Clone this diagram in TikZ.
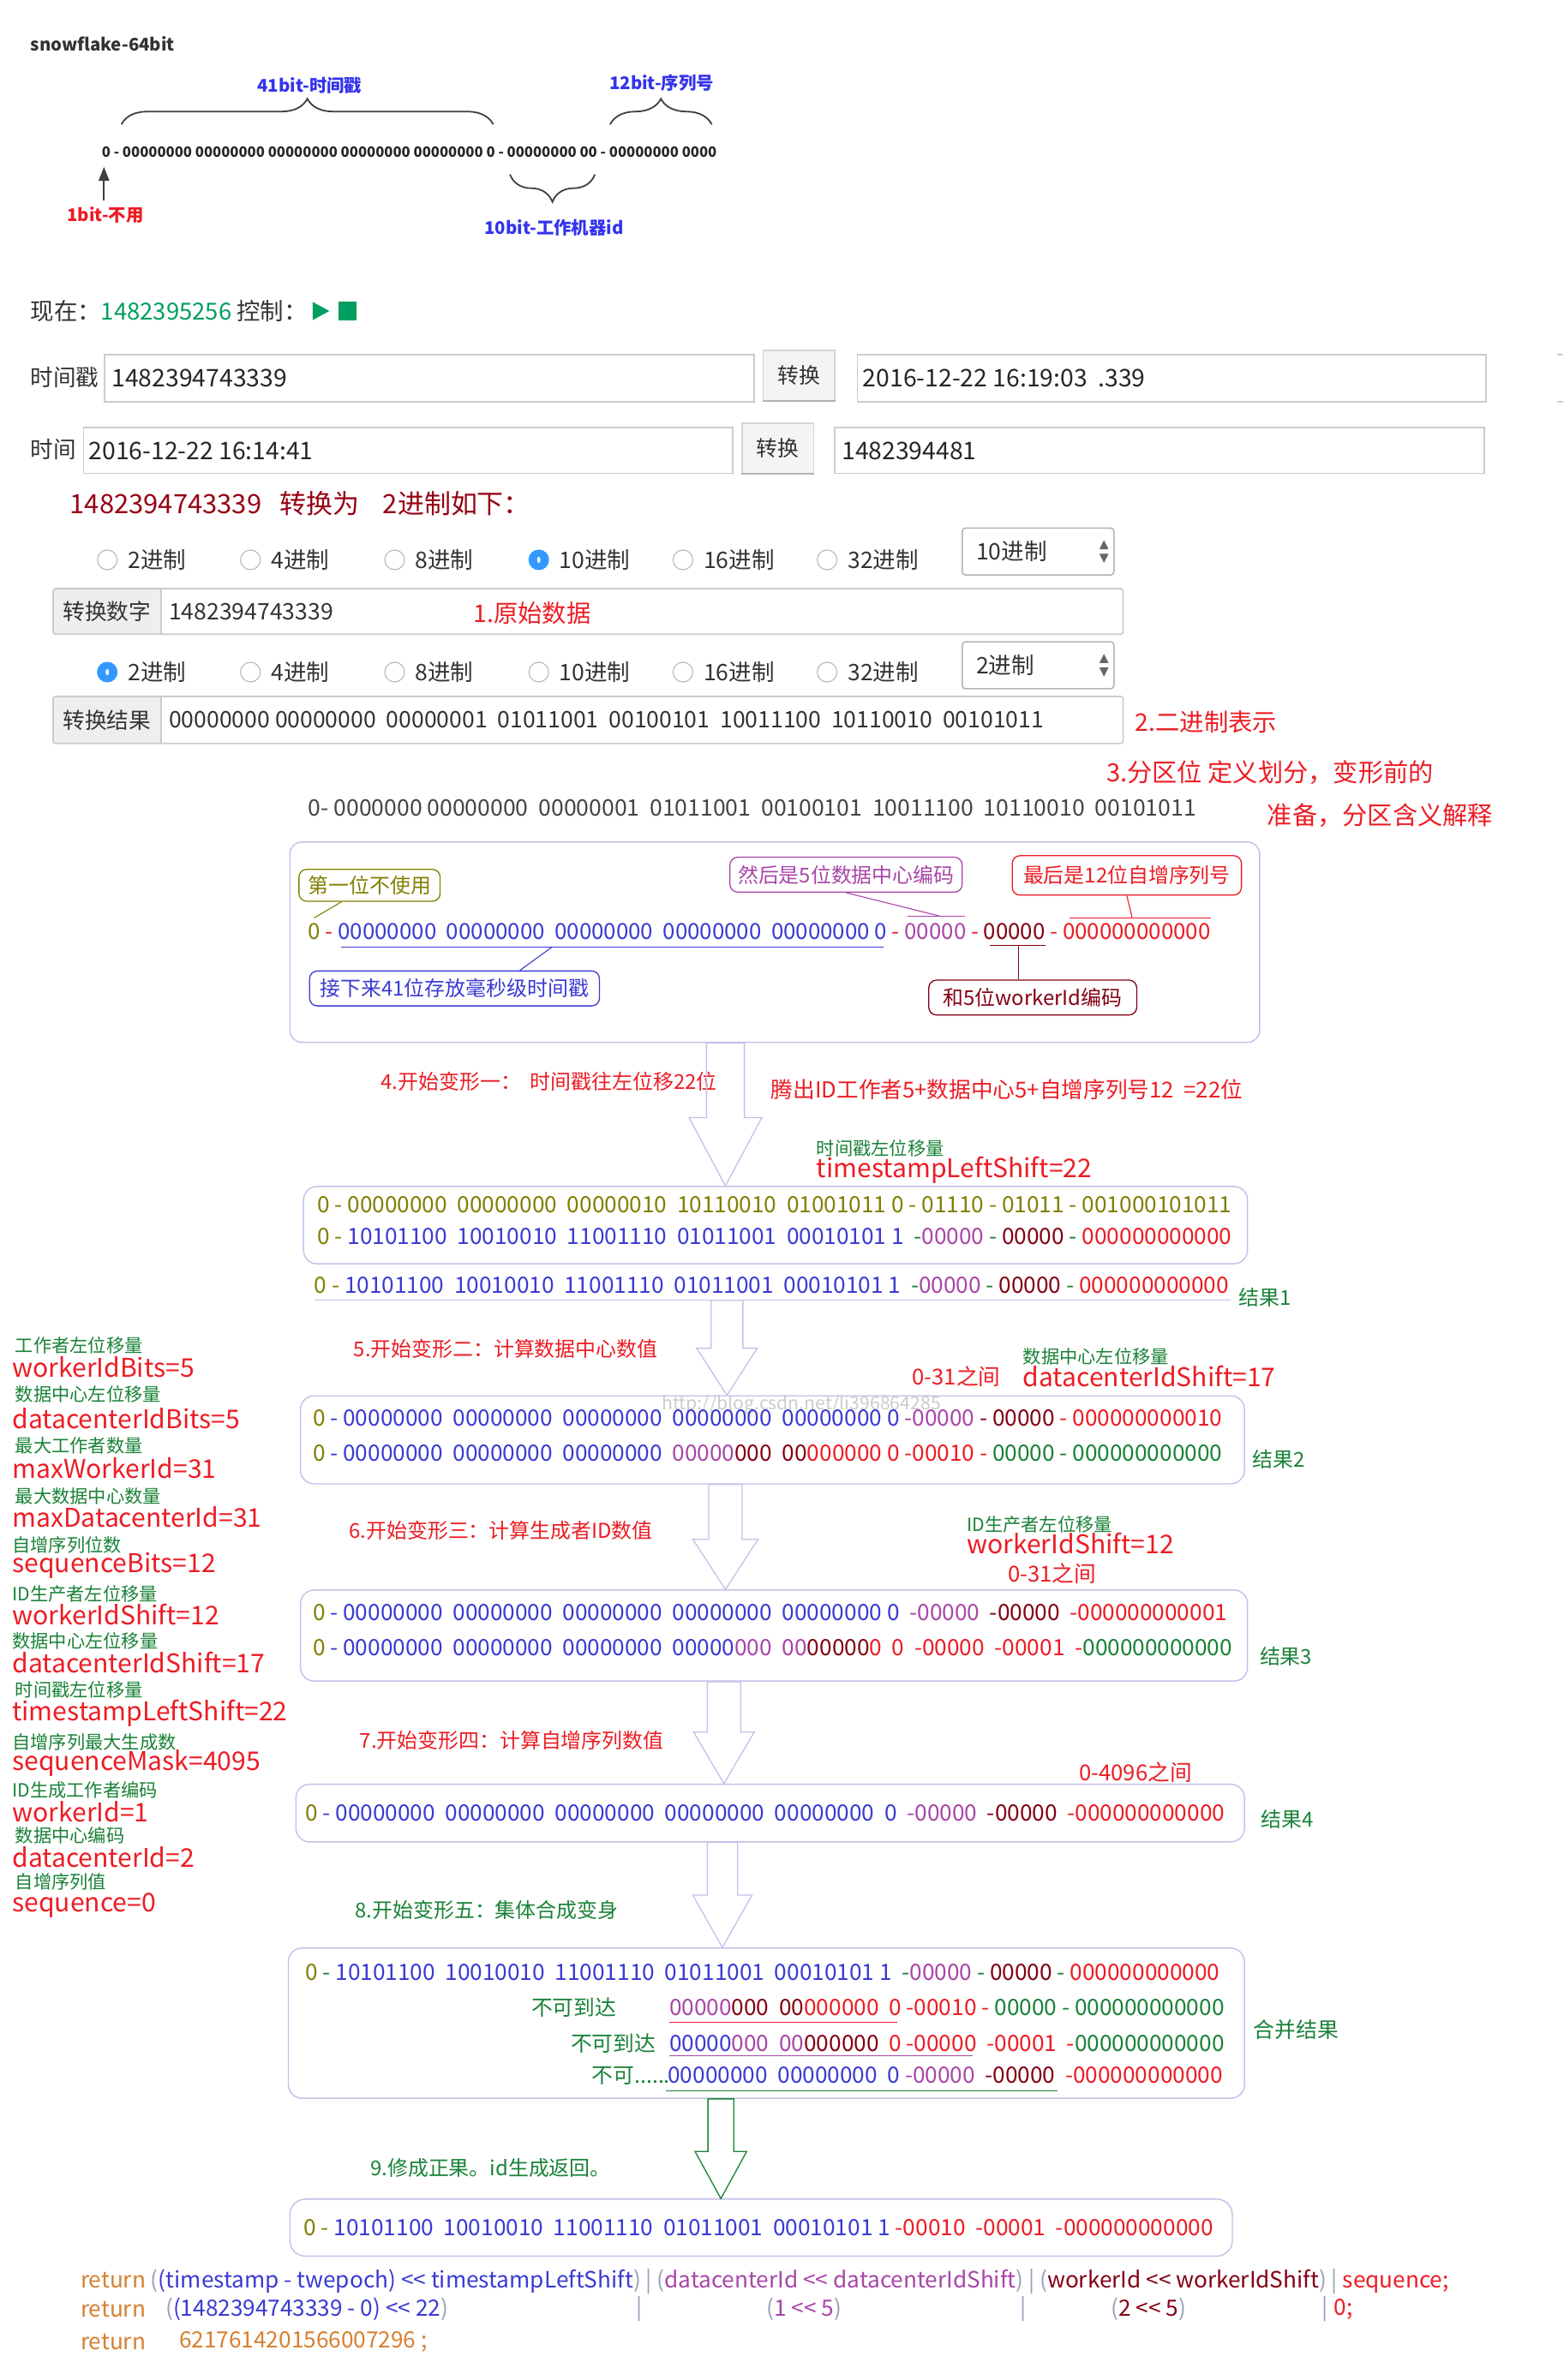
\documentclass[tikz,border=0pt]{standalone}
\usepackage{fontspec}
\setmainfont{Noto Sans CJK SC}
\usetikzlibrary{positioning, arrows.meta, shapes.geometric, calc, decorations.pathreplacing}

\definecolor{bitolive}{RGB}{128,128,0}
\definecolor{bitblue}{RGB}{58,58,210}
\definecolor{bitpurple}{RGB}{168,70,168}
\definecolor{bitdark}{RGB}{130,0,20}
\definecolor{bitred}{RGB}{236,28,36}
\definecolor{bitgreen}{RGB}{25,130,55}
\definecolor{lav}{RGB}{196,192,232}
\definecolor{txtgray}{RGB}{51,51,51}
\definecolor{rowgray}{RGB}{68,68,68}
\definecolor{nowgreen}{RGB}{0,158,96}
\definecolor{fieldgray}{RGB}{204,204,204}
\definecolor{btnfill}{RGB}{244,244,244}
\definecolor{btngray}{RGB}{212,212,212}
\definecolor{addonfill}{RGB}{238,238,238}
\definecolor{radioblue}{RGB}{51,153,255}
\definecolor{labelblue}{RGB}{51,51,238}
\definecolor{bracegray}{RGB}{64,64,64}
\definecolor{codeorange}{RGB}{214,128,48}
\definecolor{codegray}{RGB}{150,160,185}
\definecolor{titlered}{RGB}{150,0,20}

% one unit = one pixel of the shrunk reference
\newcommand{\upx}{1.7709pt}
\newcommand{\fs}[1]{\pgfmathsetmacro\fsval{#1*1.7709}\fontsize{\fsval pt}{\fsval pt}\selectfont}
\newcommand{\Ol}[1]{\textcolor{bitolive}{#1}}
\newcommand{\Bl}[1]{\textcolor{bitblue}{#1}}
\newcommand{\Pu}[1]{\textcolor{bitpurple}{#1}}
\newcommand{\Dk}[1]{\textcolor{bitdark}{#1}}
\newcommand{\Rd}[1]{\textcolor{bitred}{#1}}
\newcommand{\Gn}[1]{\textcolor{bitgreen}{#1}}
\newcommand{\Gy}[1]{\textcolor{codegray}{#1}}
\newcommand{\Or}[1]{\textcolor{codeorange}{#1}}

% hollow block arrow: x, from, to, head length, shaft half width, head half width
\newcommand{\bigarrow}[7][hollow]{%
  \coordinate (ba-s) at (#2,0 |- #3);
  \coordinate (ba-t) at (#2,0 |- #4);
  \coordinate (ba-n) at ($(ba-t)+(0,-#5)$);
  \draw[#1] ($(ba-s)+(-#6,0)$) -- ($(ba-n)+(-#6,0)$) -- ($(ba-n)+(-#7,0)$) -- (ba-t)
    -- ($(ba-n)+(#7,0)$) -- ($(ba-n)+(#6,0)$) -- ($(ba-s)+(#6,0)$) -- cycle;}

\begin{document}
\begin{tikzpicture}[x=1.7709pt, y=-1.7709pt,
  txt/.style={inner sep=0pt, anchor=west},
  bits/.style={txt, font=\fs{14.8}},
  stepred/.style={txt, font=\fs{13.5}, text=bitred},
  stepgreen/.style={txt, font=\fs{13.5}, text=bitgreen},
  hint/.style={txt, font=\fs{12}, text=bitgreen},
  param/.style={txt, font=\fs{17}, text=bitred},
  span/.style={txt, font=\fs{14.5}, text=bitred},
  result/.style={txt, font=\fs{13.5}, text=bitgreen},
  panel/.style={draw=lav, line width=1.4pt, rounded corners=16pt},
  note/.style={draw, line width=1.3pt, rounded corners=9pt, inner sep=0pt, font=\fs{13.5}},
  lead/.style={line width=1.1pt},
  hollow/.style={draw=lav, line width=1.3pt},
  hollowgreen/.style={draw=bitgreen, line width=1.3pt},
  field/.style={draw=fieldgray, line width=1.8pt, inner sep=0pt},
  intext/.style={txt, font=\fs{16}, text=black!85},
  btn/.style={draw=btngray, fill=btnfill, line width=1.2pt, inner sep=0pt, font=\fs{14}, text=txtgray},
  btnline/.style={draw=black!30, line width=2.6pt},
  addon/.style={fill=addonfill, inner sep=0pt, font=\fs{14.5}, text=txtgray},
  radio/.style={circle, draw=black!30, line width=1pt, minimum size=13*\upx, inner sep=0pt},
  radioon/.style={radio, draw=radioblue, fill=radioblue,
    path picture={\fill[white] (path picture bounding box.center) ellipse (2pt and 3.6pt);}},
  opt/.style={txt, font=\fs{15}, text=txtgray},
  sel/.style={draw=black!30, line width=1.5pt, rounded corners=4pt,
    minimum width=100*\upx, minimum height=31*\upx, inner sep=0pt},
  brc/.style={decorate, decoration={brace, amplitude=30pt}, line width=1.8pt, draw=bracegray},
  code/.style={txt, font=\fs{14.8}}
]
\useasboundingbox (0,0) rectangle (1030,1568.7);
\fill[white] (0,0) rectangle (1030,1568.7);

% ================= snowflake layout =================
\node[txt, font=\bfseries\fs{11.5}, text=txtgray] (title) at (20,29) {snowflake-64bit};
\node[txt, font=\bfseries\fs{9.4}, text=black!85] (layout) at (67,100)
  {0 - 00000000 00000000 00000000 00000000 00000000 0 - 00000000 00 - 00000000 0000};
\node[inner sep=0pt, font=\bfseries\fs{11.5}, text=labelblue] (lbl41) at (204,56.5) {41bit-时间戳};
\node[inner sep=0pt, font=\bfseries\fs{11.5}, text=labelblue] (lbl12) at (436,54.6) {12bit-序列号};
\node[inner sep=0pt, font=\bfseries\fs{11.5}, text=labelblue] (lbl10) at (365,150) {10bit-工作机器id};
\node[inner sep=0pt, font=\bfseries\fs{11.5}, text=bitred] (lbl1) at (69.5,141.5) {1bit-不用};
\draw[brc] (80,82) -- (325,82);
\draw[brc] (402,82) -- (469,82);
\draw[brc, decoration={amplitude=32pt}] (392,115) -- (336,115);
\coordinate (bit0) at (68.5,110);
\draw[-{Triangle[length=16pt,width=12pt]}, line width=2.2pt, bracegray] (68.5,132) -- (bit0);

% ================= converter form =================
\node[txt, font=\fs{15.5}, text=txtgray] (now) at (20,205) {现在：\textcolor{nowgreen}{1482395256} 控制：};
\fill[nowgreen] (206,199) -- (217,205) -- (206,211) -- cycle;
\fill[nowgreen] (223,199) rectangle (235,211);

\node[txt, font=\fs{15}, text=txtgray] (lblts) at (20,249) {时间戳};
\node[field, minimum width=428*\upx, minimum height=31*\upx] (fts) at (283,249.5) {};
\node[intext, right=9pt of fts.west] (vts) {1482394743339};
\node[btn, minimum width=47*\upx, minimum height=33*\upx] (btn1) at (526.5,247.5) {转换};
\draw[btnline] (btn1.south west) -- (btn1.south east);
\node[field, minimum width=414*\upx, minimum height=31*\upx] (fdate) at (772,249.5) {};
\node[intext, right=7pt of fdate.west] (vdate) {2016-12-22 16:19:03~~.339};
\draw[fieldgray, line width=1.8pt] (1026,234) -- (1030,234);
\draw[fieldgray, line width=1.8pt] (1026,265) -- (1030,265);

\node[txt, font=\fs{15}, text=txtgray] (lbltime) at (20,296) {时间};
\node[field, minimum width=428*\upx, minimum height=30*\upx] (ftime) at (269,297) {};
\node[intext, right=7pt of ftime.west] (vtime) {2016-12-22 16:14:41};
\node[btn, minimum width=47*\upx, minimum height=33*\upx] (btn2) at (512.5,295.5) {转换};
\draw[btnline] (btn2.south west) -- (btn2.south east);
\node[field, minimum width=428*\upx, minimum height=30*\upx] (fstamp) at (764,297) {};
\node[intext, right=9pt of fstamp.west] (vstamp) {1482394481};

\node[txt, font=\fs{17.5}, text=titlered] (convhead) at (46,332) {1482394743339~~~转换为~~~~2进制如下：};

% ================= radix selector 1 =================
\node[radio] (ra1) at (70.7,369) {};
\node[opt, right=12pt of ra1] (oa1) {2进制};
\node[radio] (ra2) at (165,369) {};
\node[opt, right=12pt of ra2] (oa2) {4进制};
\node[radio] (ra3) at (260,369) {};
\node[opt, right=12pt of ra3] (oa3) {8进制};
\node[radioon] (ra4) at (355,369) {};
\node[opt, right=12pt of ra4] (oa4) {10进制};
\node[radio] (ra5) at (450,369) {};
\node[opt, right=12pt of ra5] (oa5) {16进制};
\node[radio] (ra6) at (545,369) {};
\node[opt, right=12pt of ra6] (oa6) {32进制};
\node[sel] (sel1) at (684,363.5) {};
\node[opt, right=17pt of sel1.west] (sv1) {10进制};
\fill[black!60] ($(sel1.east)+(-10,-1.5)$) -- ++(6,0) -- ++(-3,-6) -- cycle;
\fill[black!60] ($(sel1.east)+(-10,1.5)$) -- ++(6,0) -- ++(-3,6) -- cycle;

\node[addon, minimum width=71*\upx, minimum height=30*\upx] (addon1) at (70.5,403) {转换数字};
\node[field, rounded corners=3pt, minimum width=705*\upx, minimum height=30*\upx] (grp1) at (387.5,403) {};
\draw[fieldgray, line width=1.2pt] (addon1.north east) -- (addon1.south east);
\node[txt, font=\fs{15}, text=txtgray, right=9pt of addon1.east] (num1) {1482394743339};
\node[txt, font=\fs{16}, text=bitred] (raw) at (312,404) {1.原始数据};

% ================= radix selector 2 =================
\node[radioon] (rb1) at (70.7,443) {};
\node[opt, right=12pt of rb1] (ob1) {2进制};
\node[radio] (rb2) at (165,443) {};
\node[opt, right=12pt of rb2] (ob2) {4进制};
\node[radio] (rb3) at (260,443) {};
\node[opt, right=12pt of rb3] (ob3) {8进制};
\node[radio] (rb4) at (355,443) {};
\node[opt, right=12pt of rb4] (ob4) {10进制};
\node[radio] (rb5) at (450,443) {};
\node[opt, right=12pt of rb5] (ob5) {16进制};
\node[radio] (rb6) at (545,443) {};
\node[opt, right=12pt of rb6] (ob6) {32进制};
\node[sel] (sel2) at (684,438.5) {};
\node[opt, right=17pt of sel2.west] (sv2) {2进制};
\fill[black!60] ($(sel2.east)+(-10,-1.5)$) -- ++(6,0) -- ++(-3,-6) -- cycle;
\fill[black!60] ($(sel2.east)+(-10,1.5)$) -- ++(6,0) -- ++(-3,6) -- cycle;

\node[addon, minimum width=71*\upx, minimum height=31*\upx] (addon2) at (70.5,474.5) {转换结果};
\node[field, rounded corners=3pt, minimum width=705*\upx, minimum height=31*\upx] (grp2) at (387.5,474.5) {};
\draw[fieldgray, line width=1.2pt] (addon2.north east) -- (addon2.south east);
\node[txt, font=\fs{15}, text=txtgray, right=9pt of addon2.east] (bin1)
  {00000000 00000000~~00000001~~01011001~~00100101~~10011100~~10110010~~00101011};
\node[txt, font=\fs{16}, text=bitred] (binlbl) at (748,476) {2.二进制表示};

% ================= Step 3: partition =================
\node[txt, font=\fs{16.5}, text=bitred] (part1) at (729,509) {3.分区位 定义划分，变形前的};
\node[txt, font=\fs{16.5}, text=bitred] (part2) at (835,537.5) {准备，分区含义解释};
\node[txt, font=\fs{15}, text=rowgray] (r3) at (203,532.5)
  {0- 0000000 00000000~~00000001~~01011001~~00100101~~10011100~~10110010~~00101011};

\node[panel, rounded corners=14pt, minimum width=639*\upx, minimum height=132*\upx] (box4) at (510.5,621) {};
\node[txt, font=\fs{14.6}] (r4) at (203,614) {\Ol{0} \Rd{-} \Bl{00000000~~00000000~~00000000~~00000000~~00000000 0} \Rd{-} \Pu{00000} \Rd{-} \Dk{00000} \Rd{-} \Rd{000000000000}};
\node[note, draw=bitolive, text=bitolive, minimum width=93*\upx, minimum height=21*\upx] (nfirst) at (243.5,583.5) {第一位不使用};
\node[note, draw=bitpurple, text=bitpurple, minimum width=153*\upx, minimum height=23*\upx] (ndc) at (557.5,576.5) {然后是5位数据中心编码};
\node[note, draw=bitred, text=bitred, minimum width=151*\upx, minimum height=26*\upx] (nseq) at (742.5,577) {最后是12位自增序列号};
\node[note, draw=bitblue, text=bitblue, minimum width=191*\upx, minimum height=23*\upx] (nts) at (299.5,651.5) {接下来41位存放毫秒级时间戳};
\node[note, draw=bitdark, text=bitdark, minimum width=137*\upx, minimum height=23*\upx] (nwk) at (680.5,657.5) {和5位workerId编码};

\coordinate (bfirst) at (207,605);
\coordinate (bdc) at (620,604);
\coordinate (bseq) at (746,605);
\coordinate (uts) at (364,624);
\coordinate (uwk) at (671,623);
\draw[lead, bitolive] (nfirst) -- (bfirst);
\draw[lead, bitpurple] (ndc.south) -- (bdc);
\draw[lead, bitpurple] (598,604) -- (636,604);
\draw[lead, bitred] (nseq.south) -- (bseq);
\draw[lead, bitred] (705,605) -- (798,605);
\draw[lead, bitblue] (225,624) -- (582,624);
\draw[lead, bitblue] (uts) -- ($(nts.north)+(43,0)$);
\draw[lead, bitdark] (652,623) -- (689,623);
\draw[lead, bitdark] (uwk) -- (uwk |- nwk.north);

% ================= Step 4: timestamp shift =================
\node[stepred] (s4) at (251,713) {4.开始变形一：~~时间戳往左位移22位};
\node[txt, font=\fs{14.5}, text=bitred] (s4b) at (508,718) {腾出ID工作者5+数据中心5+自增序列号12~~=22位};
\node[hint] (h4) at (538,757) {时间戳左位移量};
\node[param] (p4) at (538,771) {timestampLeftShift=22};
\node[panel, minimum width=622*\upx, minimum height=51*\upx] (box5) at (511,807.5) {};
\node[bits] (r5a) at (209,794) {\Ol{0 - 00000000~~00000000~~00000010~~10110010~~01001011 0 - 01110 - 01011 - 001000101011}};
\node[bits] (r5b) at (209,815) {\Ol{0 -} \Bl{10101100~~10010010~~11001110~~01011001~~00010101 1}~~\Gn{-}\Pu{00000} \Gn{-} \Dk{00000} \Gn{-} \Rd{000000000000}};
\node[bits] (r5c) at (207,847) {\Ol{0 -} \Bl{10101100~~10010010~~11001110~~01011001~~00010101 1}~~\Gn{-}\Pu{00000} \Gn{-} \Dk{00000} \Gn{-} \Rd{000000000000}};
\coordinate (ur1) at (479,857);
\draw[hollow] (207,857) -- (811,857);
\node[result] (res1) at (816,855) {结果1};

% ================= Left column: parameters =================
\node[hint] (h01) at (10,886.6) {工作者左位移量};
\node[param] (p01) at (8,901) {workerIdBits=5};
\node[hint] (h02) at (10,919) {数据中心左位移量};
\node[param] (p02) at (8,935) {datacenterIdBits=5};
\node[hint] (h03) at (10,953) {最大工作者数量};
\node[param] (p03) at (8,967.5) {maxWorkerId=31};
\node[hint] (h04) at (10,986) {最大数据中心数量};
\node[param] (p04) at (8,1000) {maxDatacenterId=31};
\node[hint] (h05) at (8,1018.5) {自增序列位数};
\node[param] (p05) at (8,1032) {sequenceBits=12};
\node[hint] (h06) at (8,1050.5) {ID生产者左位移量};
\node[param] (p06) at (8,1064) {workerIdShift=12};
\node[hint] (h07) at (8,1081.5) {数据中心左位移量};
\node[param] (p07) at (8,1096) {datacenterIdShift=17};
\node[hint] (h08) at (10,1114) {时间戳左位移量};
\node[param] (p08) at (8,1129) {timestampLeftShift=22};
\node[hint] (h09) at (8,1148) {自增序列最大生成数};
\node[param] (p09) at (8,1162) {sequenceMask=4095};
\node[hint] (h10) at (8,1180) {ID生成工作者编码};
\node[param] (p10) at (8,1194) {workerId=1};
\node[hint] (h11) at (10,1209.5) {数据中心编码};
\node[param] (p11) at (8,1224) {datacenterId=2};
\node[hint] (h12) at (10,1240.5) {自增序列值};
\node[param] (p12) at (8,1256) {sequence=0};

% ================= Step 5: datacenter =================
\node[stepred] (s5) at (233,889) {5.开始变形二：计算数据中心数值};
\node[hint] (h5) at (674,894) {数据中心左位移量};
\node[span] (g5) at (601,907) {0-31之间};
\node[param] (p5) at (674,907) {datacenterIdShift=17};
\node[panel, minimum width=622*\upx, minimum height=58*\upx] (box6) at (509,949) {};
\node[font=\fs{12}, text=black!20, inner sep=0pt] (mark) at (528,926) {http://blog.csdn.net/li396864285};
\node[bits] (r6a) at (206,934.5) {\Ol{0} \Bl{- 00000000~~00000000~~00000000~~00000000~~00000000 0} \Pu{-00000} \Dk{- 00000} \Rd{- 000000000010}};
\node[bits] (r6b) at (206,958) {\Ol{0} \Bl{- 00000000~~00000000~~00000000}~~\Pu{00000}\Dk{000}~~\Dk{00}\Rd{000000 0 -00010} \Rd{-} \Gn{00000 - 000000000000}};
\node[result] (res2) at (825,962) {结果2};

% ================= Step 6: worker =================
\node[stepred] (s6) at (230,1009) {6.开始变形三：计算生成者ID数值};
\node[hint] (h6) at (637,1005) {ID生产者左位移量};
\node[param] (p6) at (637,1017) {workerIdShift=12};
\node[span] (g6) at (664,1037) {0-31之间};
\node[panel, minimum width=624*\upx, minimum height=60*\upx] (box7) at (510,1078) {};
\node[bits] (r7a) at (206,1063) {\Ol{0} \Bl{- 00000000~~00000000~~00000000~~00000000~~00000000 0}~~\Pu{-00000}~~\Dk{-00000}~~\Rd{-000000000001}};
\node[bits] (r7b) at (206,1086) {\Ol{0} \Bl{- 00000000~~00000000~~00000000~~00000}\Pu{000}~~\Pu{00}\Dk{00000}\Rd{0}~~\Rd{0}~~\Rd{-00000}~~\Rd{-00001}~~\Rd{-}\Gn{000000000000}};
\node[result] (res3) at (830,1092) {结果3};

% ================= Step 7: sequence =================
\node[stepred] (s7) at (237,1147) {7.开始变形四：计算自增序列数值};
\node[span] (g7) at (711,1168) {0-4096之间};
\node[panel, minimum width=625*\upx, minimum height=38*\upx] (box8) at (507.5,1195) {};
\node[bits] (r8) at (201,1195) {\Ol{0} \Bl{- 00000000~~00000000~~00000000~~00000000~~00000000~~0}~~\Pu{-00000}~~\Dk{-00000}~~\Rd{-000000000000}};
\node[result] (res4) at (831,1199) {结果4};

% ================= Step 8: merge =================
\node[stepgreen] (s8) at (234,1259) {8.开始变形五：集体合成变身};
\node[panel, minimum width=630*\upx, minimum height=99*\upx] (box9) at (505,1333.5) {};
\node[bits] (r9a) at (201,1300) {\Ol{0} \Gn{-} \Bl{10101100~~10010010~~11001110~~01011001~~00010101 1}~~\Gn{-}\Pu{00000} \Gn{-} \Dk{00000} \Gn{-} \Rd{000000000000}};
\node[txt, font=\fs{14}, text=bitgreen] (lost1) at (350,1323) {不可到达};
\node[bits] (r9b) at (441,1323) {\Pu{00000}\Dk{000}~~\Dk{00}\Rd{000000~~0 -00010} \Rd{-} \Gn{00000 - 000000000000}};
\node[txt, font=\fs{14}, text=bitgreen] (lost2) at (376,1347) {不可到达};
\node[bits] (r9c) at (441,1347) {\Bl{00000}\Pu{000}~~\Pu{00}\Dk{000000}~~\Rd{0 -00000}~~\Rd{-00001}~~\Rd{-}\Gn{000000000000}};
\node[txt, font=\fs{14}, text=bitgreen] (lost3) at (390,1368) {不可......};
\node[bits] (r9d) at (440,1368) {\Bl{00000000~~00000000~~0} \Pu{-00000}~~\Dk{-00000}~~\Rd{-000000000000}};
\draw[lead, bitred] (441,1333) -- (591,1333);
\draw[lead, bitpurple] (441,1355) -- (641,1355);
\draw[lead, bitgreen] (439,1378) -- (697,1378);
\node[txt, font=\fs{14}, text=bitgreen] (resall) at (826,1338) {合并结果};

% ================= Step 9: final id =================
\node[stepgreen] (s9) at (244,1429) {9.修成正果。id生成返回。};
\node[panel, rounded corners=18pt, minimum width=621*\upx, minimum height=37.5*\upx] (box10) at (501.5,1468.25) {};
\node[bits] (r10) at (200,1468) {\Ol{0 -} \Bl{10101100~~10010010~~11001110~~01011001~~00010101 1} \Rd{-00010~~-00001~~-000000000000}};

% ================= Block arrows =================
\bigarrow{478}{box4.south}{box5.north}{45}{12.5}{24}
\bigarrow{479}{ur1}{box6.north}{31}{10.5}{20}
\bigarrow{478}{box6.south}{box7.north}{33}{11}{21.5}
\bigarrow{477}{box7.south}{box8.north}{34}{11}{20}
\bigarrow{476}{box8.south}{box9.north}{34.5}{10}{19.5}
\bigarrow[hollowgreen]{475}{box9.south}{box10.north}{31}{8.5}{17}

% ================= return statements =================
\node[code] (ret1) at (53,1504) {\Or{return} \Gy{(}\Bl{(timestamp - twepoch) <{}< timestampLeftShift}\Gy{) | (}\Pu{datacenterId <{}< datacenterIdShift}\Gy{) | (}\Dk{workerId <{}< workerIdShift}\Gy{) |} \Rd{sequence;}};
\node[code, text=codeorange] (ret2) at (53,1522) {return};
\node[code] (ret2a) at (109,1522) {\Gy{(}\Bl{(1482394743339 - 0) <{}< 22}\Gy{)}};
\node[code, text=codegray] (bar1) at (419,1522) {|};
\node[code] (ret2b) at (505,1522) {\Gy{(}\Pu{1 <{}< 5}\Gy{)}};
\node[code, text=codegray] (bar2) at (672,1522) {|};
\node[code] (ret2c) at (732,1522) {\Gy{(}\Dk{2 <{}< 5}\Gy{)}};
\node[code, text=codegray] (bar3) at (871,1522) {|};
\node[code, text=bitred] (ret2d) at (879,1522) {0;};
\node[code, text=codeorange] (ret3) at (53,1543.5) {return};
\node[code, text=codeorange] (idval) at (118,1543.5) {6217614201566007296 ;};

\end{tikzpicture}
\end{document}
